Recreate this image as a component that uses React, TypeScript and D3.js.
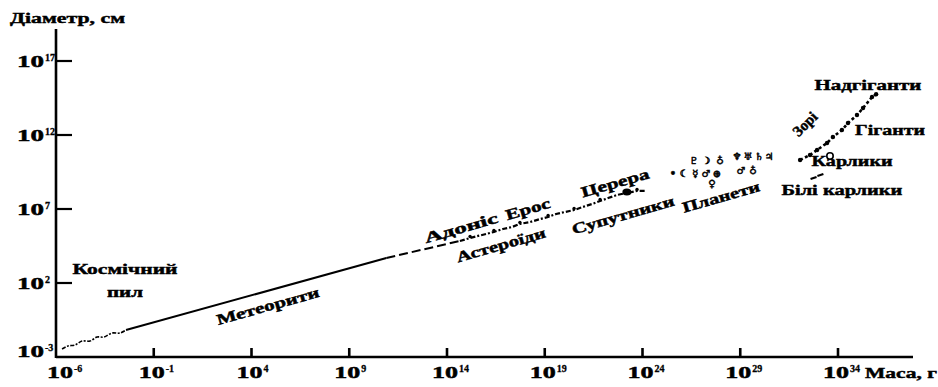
import React from "react";
import * as d3 from "d3";

const W = 938;
const H = 387;

// tick exponents
const xTickExps = [-6, -1, 4, 9, 14, 19, 24, 29, 34];
const yTickExps = [-3, 2, 7, 12, 17];

// [log10 mass (g), log10 diameter (cm)]
const dustPoints: [number, number][] = [
  [-5.69, -2.46], [-5.39, -2.26], [-5.03, -2.19], [-4.67, -1.92], [-4.26, -1.92],
  [-3.9, -1.65], [-3.54, -1.65], [-3.14, -1.38], [-2.73, -1.38], [-2.42, -1.18],
];
const meteoritePoints: [number, number][] = [[-2.42, -1.18], [10.9, 3.69]];
const asteroidDashPoints: [number, number][] = [[10.9, 3.69], [14.66, 4.84]];
const asteroidPoints: [number, number][] = [
  [14.66, 4.84], [15.18, 5.04], [15.59, 5.18], [16.0, 5.31], [16.4, 5.45],
  [16.86, 5.65], [17.32, 5.78], [17.73, 5.99], [18.25, 6.12], [18.76, 6.32],
  [19.17, 6.46], [19.58, 6.66], [20.04, 6.8], [20.5, 6.93], [20.96, 7.14],
  [21.42, 7.34], [21.83, 7.54], [22.24, 7.74], [22.7, 7.95], [23.72, 8.22], [24.13, 8.22],
];
const ceres: [number, number] = [23.2, 8.15];
const planetSymbols = ["•", "☾", "☿", "♂", "⊕", "♇", "☽", "♁", "♀", "♆", "♅", "♄", "♃", "♂", "♁"];
const planetMass = [25.56, 26.12, 26.69, 27.25, 27.81, 26.63, 27.25, 27.96, 27.55, 28.83, 29.4, 29.96, 30.47, 29.04, 29.65];
const planetDiam = [9.43, 9.43, 9.43, 9.43, 9.43, 10.31, 10.31, 10.31, 8.69, 10.58, 10.58, 10.58, 10.58, 9.57, 9.57];
const starPoints: [number, number][] = [
  [32.06, 10.31], [32.57, 10.65], [32.93, 10.99], [33.44, 11.46], [33.74, 11.86],
  [34.2, 12.34], [34.51, 12.81], [34.97, 13.35], [35.28, 13.82], [35.74, 14.57], [35.95, 14.75],
];
const sun: [number, number] = [33.59, 10.58];
const whiteDwarfs: [number, number][] = [[32.75, 9.1], [33.1, 9.3]];

// annotation texts with their place in log mass / log diameter
const labelTexts = ["Космічний", "пил", "Метеорити", "Адоніс", "Ерос", "Церера", "Астероїди", "Супутники", "Планети", "Зорі", "Надгіганти", "Гіганти", "Карлики", "Білі карлики"];
const labelMass = [-2.47, -2.47, 4.84, 14.72, 18.14, 22.6, 16.76, 23.0, 28.02, 32.31, 35.53, 36.66, 34.72, 34.2];
const labelDiam = [2.61, 1.05, 0.45, 5.72, 7.0, 8.76, 4.57, 6.59, 7.81, 12.74, 15.04, 12.0, 9.9, 7.95];
const labelAngle = [0, 0, -15.5, -16, -16, -16, -16, -16, -16, -45, 0, 0, 0, 0];
const labelLen = [105, 36, 106, 76, 46, 70, 92, 106, 80, 28, 107, 70, 81, 121];

const yTitle = "Діаметр, см";
const xTitle = "Маса, г";

const FONT = "'Liberation Serif', 'Times New Roman', serif";

export default function App() {
  const x = d3.scaleLog().domain([1e-6, 1e34]).range([56, 838]);
  const y = d3.scaleLog().domain([1e-3, 1e17]).range([357, 61]);
  const px = (e: number) => x(Math.pow(10, e));
  const py = (e: number) => y(Math.pow(10, e));
  const line = d3.line<[number, number]>().x((d) => px(d[0])).y((d) => py(d[1]));
  const curve = d3.line<[number, number]>().x((d) => px(d[0])).y((d) => py(d[1])).curve(d3.curveCatmullRom);

  const axisColor = "#000";
  const x0 = px(-6);
  const y0 = py(-3);
  const heavy = { stroke: "#000", strokeWidth: 0.45 };

  return (
    <svg
      width={W}
      height={H}
      style={{ position: "absolute", left: 0, top: 0, background: "#fff" }}
      fontFamily={FONT}
      fontWeight="bold"
    >
      {/* axes */}
      <line x1={x0} y1={29} x2={x0} y2={y0 + 1} stroke={axisColor} strokeWidth={2.6} />
      <line x1={x0} y1={y0} x2={913} y2={y0} stroke={axisColor} strokeWidth={2.6} />
      {yTickExps.filter((e) => e !== -3).map((e) => (
        <line key={"yt" + e} x1={x0} x2={x0 + 16} y1={py(e)} y2={py(e)} stroke={axisColor} strokeWidth={2.2} />
      ))}
      {xTickExps.filter((e) => e !== -6).map((e) => (
        <line key={"xt" + e} x1={px(e)} x2={px(e)} y1={y0 - 9} y2={y0} stroke={axisColor} strokeWidth={2.6} />
      ))}

      <g {...heavy}>
        {/* y tick labels */}
        {yTickExps.map((e) => {
          const base = Math.min(py(e) + 6, y0);
          return (
            <g key={"yl" + e}>
              <text x={17} y={base} fontSize={16} textLength={27} lengthAdjust="spacingAndGlyphs">10</text>
              <text x={45} y={base - 6} fontSize={10} strokeWidth={0.3}>{e < 0 ? "-" + Math.abs(e) : String(e)}</text>
            </g>
          );
        })}
        {/* x tick labels */}
        {xTickExps.map((e, i) => {
          const start = px(e) - (i === 0 ? 9 : 15);
          return (
            <g key={"xl" + e}>
              <text x={start} y={378} fontSize={16} textLength={26} lengthAdjust="spacingAndGlyphs">10</text>
              <text x={start + 27} y={372} fontSize={10} strokeWidth={0.3}>{e < 0 ? "-" + Math.abs(e) : String(e)}</text>
            </g>
          );
        })}

        {/* titles */}
        <text x={10} y={23} fontSize={15} textLength={115} lengthAdjust="spacingAndGlyphs">{yTitle}</text>
        <text x={865} y={378} fontSize={15} textLength={72} lengthAdjust="spacingAndGlyphs">{xTitle}</text>
      </g>

      {/* cosmic dust */}
      <path d={curve(dustPoints) || ""} fill="none" stroke="#000" strokeWidth={1.6} strokeDasharray="4 1.5 2 1.5" />
      {/* meteorites */}
      <path d={line(meteoritePoints) || ""} fill="none" stroke="#000" strokeWidth={2} />
      <path d={line(asteroidDashPoints) || ""} fill="none" stroke="#000" strokeWidth={2} strokeDasharray="9 4" />
      {/* asteroids */}
      <path d={line(asteroidPoints) || ""} fill="none" stroke="#000" strokeWidth={2.2} strokeDasharray="5 2 2 2" />
      {asteroidPoints.filter((_, i) => i % 3 === 1).map((d, i) => (
        <circle key={"ap" + i} cx={px(d[0])} cy={py(d[1]) - 1.5} r={1.7} fill="#000" />
      ))}
      <ellipse cx={px(ceres[0])} cy={py(ceres[1])} rx={4.5} ry={3.5} fill="#000" />

      {/* planets & satellites */}
      {planetSymbols.map((s, i) => (
        <text
          key={"ps" + i}
          x={px(planetMass[i])}
          y={py(planetDiam[i])}
          fontSize={10}
          fontFamily="'DejaVu Sans', sans-serif"
          textAnchor="middle"
          dominantBaseline="central"
          stroke="#000"
          strokeWidth={0.5}
        >
          {s}
        </text>
      ))}

      {/* stars */}
      <path d={line(starPoints) || ""} fill="none" stroke="#000" strokeWidth={2.6} strokeDasharray="3 2.5" />
      {starPoints.map((d, i) => (
        <circle key={"sp" + i} cx={px(d[0])} cy={py(d[1])} r={2.2} fill="#000" />
      ))}
      <circle cx={px(sun[0])} cy={py(sun[1])} r={3.2} fill="#fff" stroke="#000" strokeWidth={1.6} />
      {whiteDwarfs.map((d, i) => (
        <line
          key={"wd" + i}
          x1={px(d[0]) - 3}
          x2={px(d[0]) + 3}
          y1={py(d[1]) + 1}
          y2={py(d[1]) - 1}
          stroke="#000"
          strokeWidth={2.2}
        />
      ))}

      {/* annotations */}
      <g {...heavy}>
        {labelTexts.map((t, i) => {
          const cx = px(labelMass[i]);
          const cy = py(labelDiam[i]);
          const a = labelAngle[i];
          if (a === 0) {
            return (
              <text
                key={"lb" + i}
                x={cx - labelLen[i] / 2}
                y={cy}
                fontSize={15}
                textLength={labelLen[i]}
                lengthAdjust="spacingAndGlyphs"
              >
                {t}
              </text>
            );
          }
          return (
            <g key={"lb" + i} transform={`translate(${cx},${cy}) rotate(${a})`}>
              <text
                x={-labelLen[i] / 2}
                y={5}
                fontSize={15}
                textLength={labelLen[i]}
                lengthAdjust="spacingAndGlyphs"
              >
                {t}
              </text>
            </g>
          );
        })}
      </g>
    </svg>
  );
}
